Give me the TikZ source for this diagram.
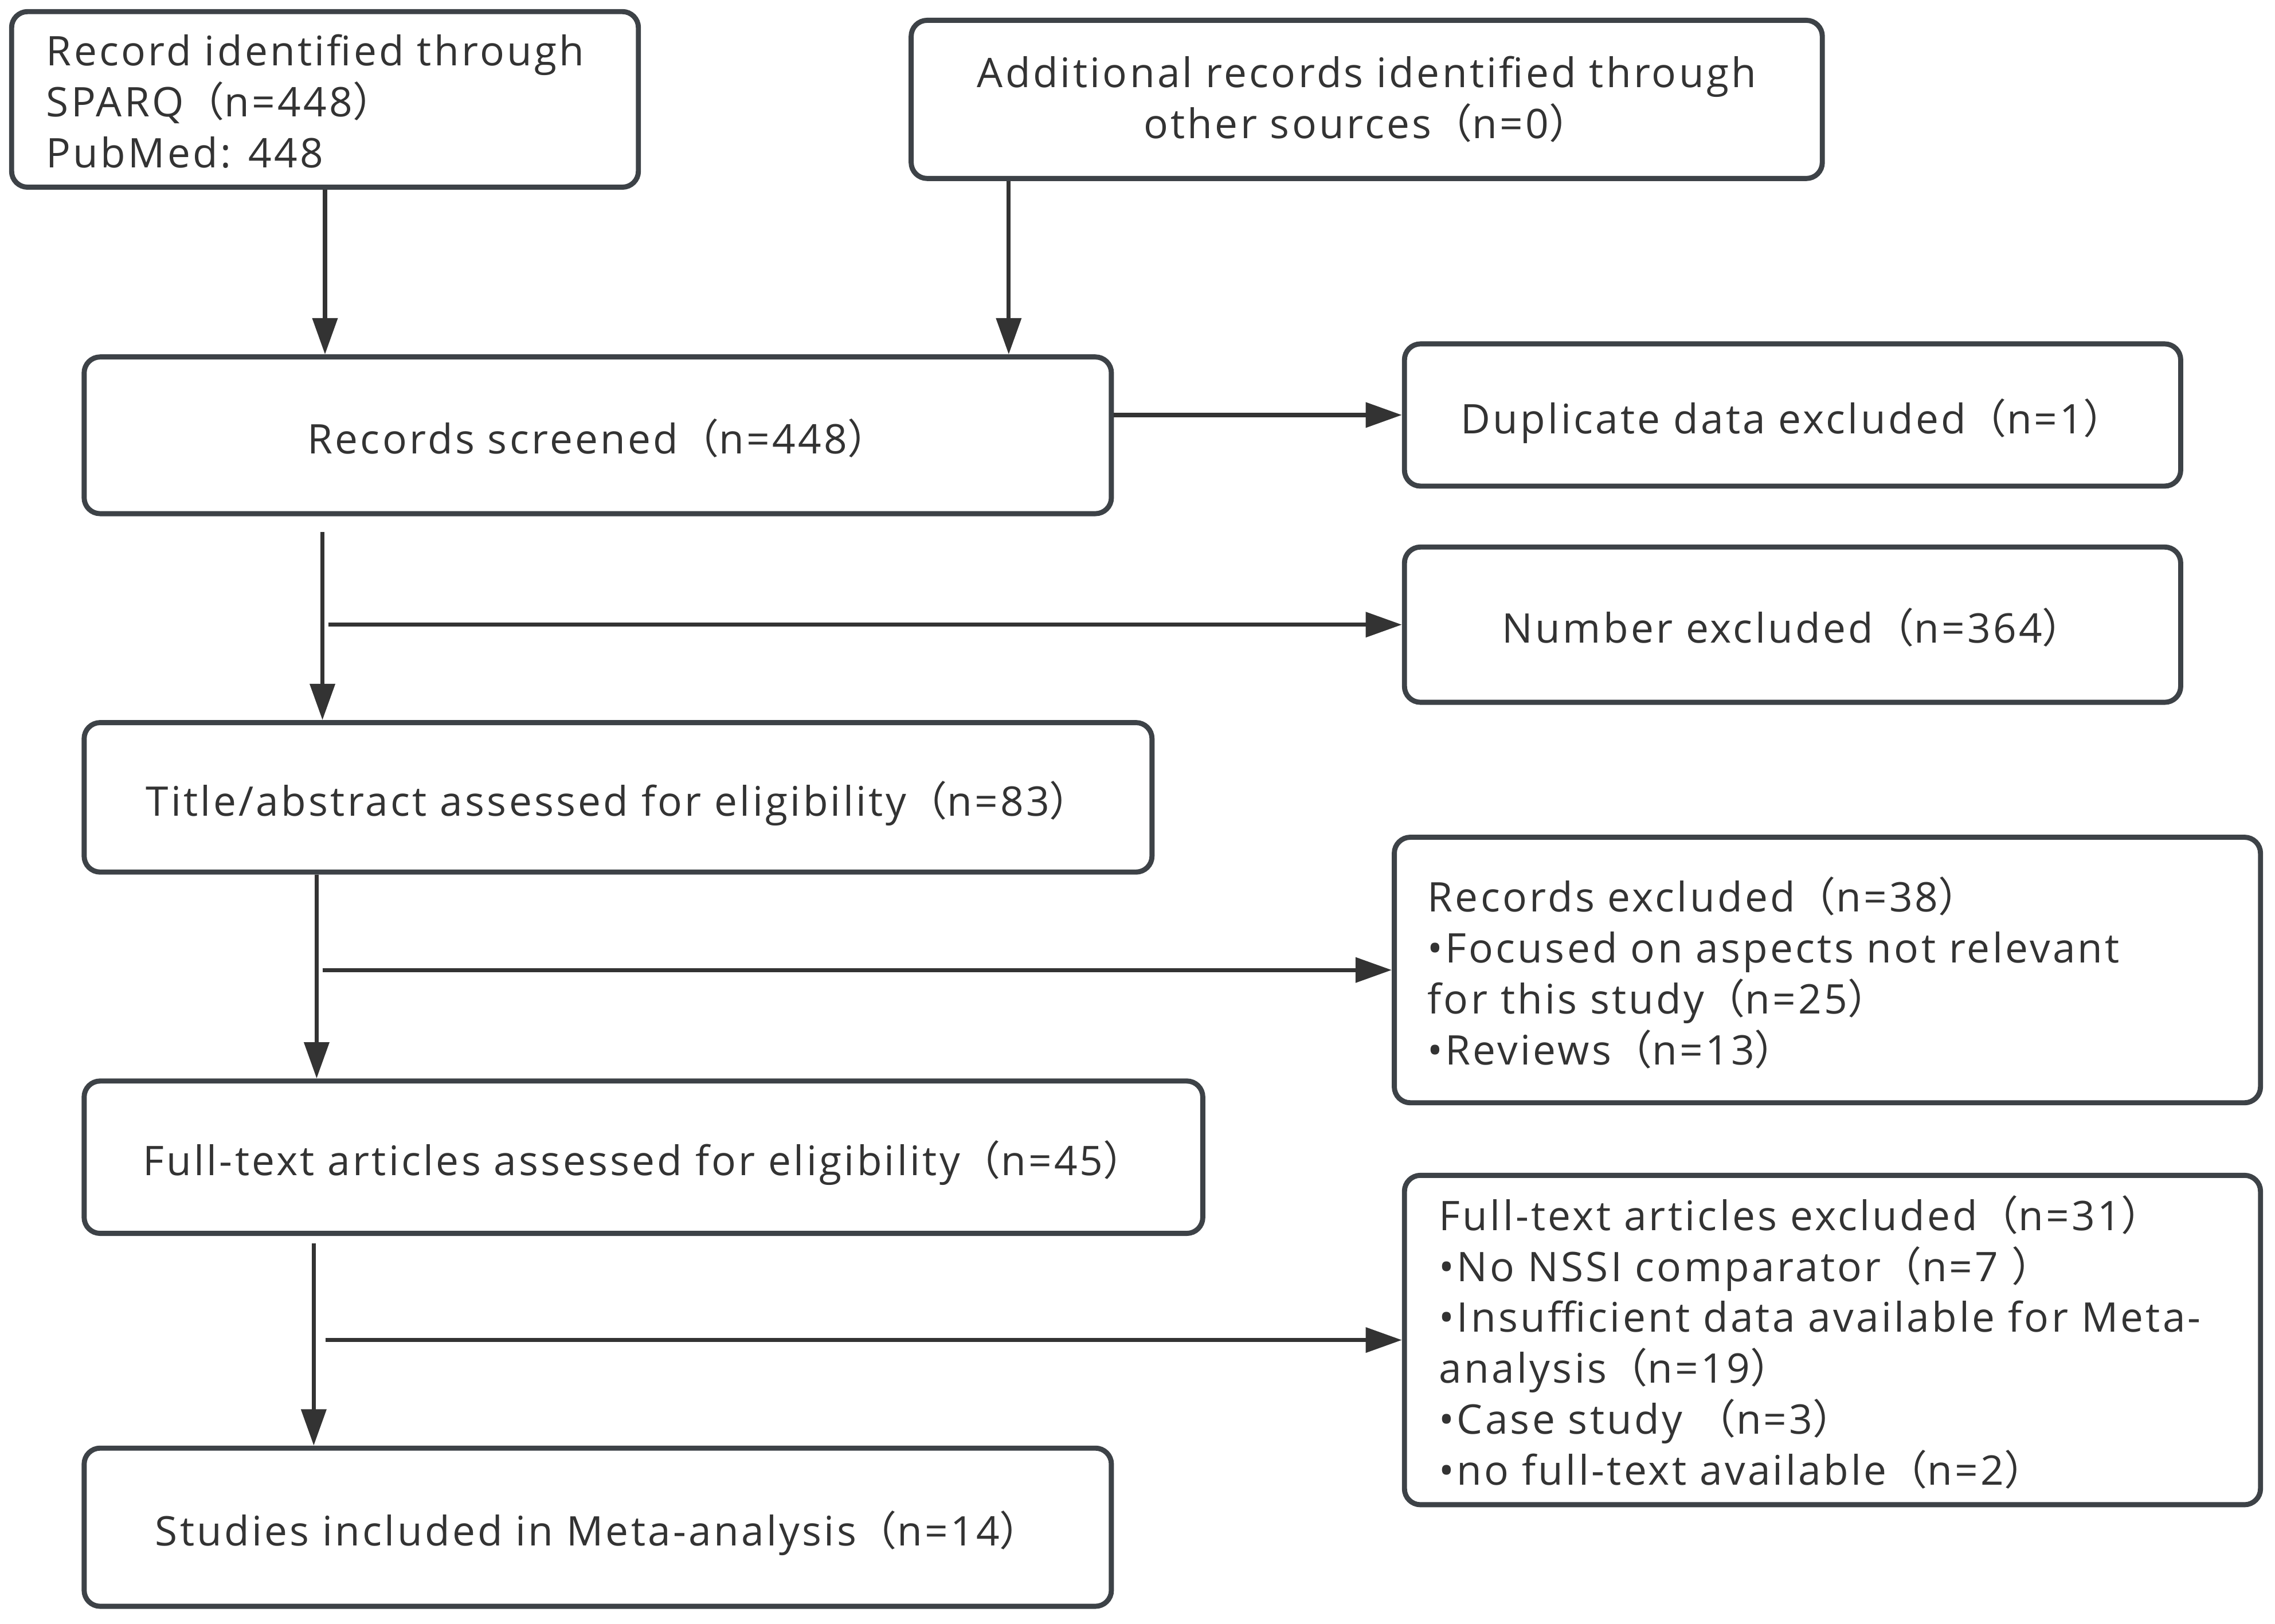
\documentclass[tikz,border=0pt]{standalone}
\usepackage{fontspec}
\setmainfont{Open Sans}[LetterSpace=6]
\newfontfamily\cjkfont{Noto Sans CJK SC}
\usetikzlibrary{arrows.meta}
\newcommand{\lpar}{{\cjkfont （}}
\newcommand{\rpar}{{\cjkfont ）}}
\definecolor{bordc}{HTML}{3D4247}
\definecolor{txtc}{HTML}{333333}
\begin{document}
\begin{tikzpicture}[x=0.1mm,y=-0.1mm,
  box/.style={draw=bordc, line width=1pt, rounded corners=1.1mm, inner sep=0pt, fill=white,
    text=txtc, font=\fontsize{8}{10}\selectfont, align=center},
  one/.style={text height=3.1mm, text depth=0.56mm},
  lbl/.style={text=txtc, font=\fontsize{8}{10}\selectfont, align=left, inner sep=0pt, anchor=west},
  flow/.style={draw=txtc, line width=0.8pt, -{Triangle[length=2.5mm,width=1.7mm]}}]
\useasboundingbox (0,0) rectangle (1568,1119);

% boxes
\node[box, minimum width=43.2mm, minimum height=12.1mm] (A) at (224,68.5) {};
\node[lbl] (Atxt) at ([xshift=2.5mm,yshift=-0.15mm]A.west) {Record identified through\\SPARQ\lpar n=448\rpar\\PubMed: 448};
\node[box, minimum width=62.8mm, minimum height=10.9mm] (B) at (942,68.5) {Additional records identified through\\other sources\lpar n=0\rpar};
\node[box, one, minimum width=70.8mm, minimum height=10.8mm] (S) at (412,300) {Records screened\lpar n=448\rpar};
\node[box, one, minimum width=53.5mm, minimum height=9.8mm] (Dup) at (1235.5,286) {Duplicate data excluded\lpar n=1\rpar};
\node[box, one, minimum width=53.5mm, minimum height=10.7mm] (Num) at (1235.5,430.5) {Number excluded\lpar n=364\rpar};
\node[box, one, minimum width=73.6mm, minimum height=10.3mm] (T) at (426,549.5) {Title/abstract assessed for eligibility\lpar n=83\rpar};
\node[box, minimum width=59.7mm, minimum height=18.3mm] (RecEx) at (1259.5,668.5) {};
\node[lbl] (RecExtxt) at ([xshift=2.4mm,yshift=-0.2mm]RecEx.west) {Records excluded\lpar n=38\rpar\\%
  •Focused on aspects not relevant\\for this study\lpar n=25\rpar\\•Reviews\lpar n=13\rpar};
\node[box, one, minimum width=77.1mm, minimum height=10.5mm] (F) at (443.5,797.5) {Full-text articles assessed for eligibility\lpar n=45\rpar};
\node[box, minimum width=59mm, minimum height=22.7mm] (FEx) at (1263,923.5) {};
\node[lbl] (FExtxt) at ([xshift=2.5mm,yshift=-0.15mm]FEx.west) {Full-text articles excluded\lpar n=31\rpar\\%
  •No NSSI comparator\lpar n=7 \rpar\\•Insufficient data available for Meta-\\analysis\lpar n=19\rpar\\%
  •Case study\ \lpar n=3\rpar\\•no full-text available\lpar n=2\rpar};
\node[box, one, minimum width=70.8mm, minimum height=10.9mm] (St) at (412,1052.5) {Studies included in Meta-analysis\lpar n=14\rpar};

% connectors
\draw[flow] (A.south) -- (A.south |- S.north);
\coordinate (b1) at ([xshift=6.9mm]B.south west);
\draw[flow] (b1) -- (b1 |- S.north);
\draw[flow] (S.east |- Dup.west) -- (Dup.west);

\coordinate (s1) at ([xshift=16.6mm]S.south west);
\draw[flow, shorten <=1.1mm] (s1) -- (s1 |- T.north);
\draw[flow] ([xshift=0.4mm]s1 |- Num.west) -- (Num.west);

\coordinate (t1) at ([xshift=16.2mm]T.south west);
\draw[flow] (t1) -- (t1 |- F.north);
\draw[flow] ([xshift=0.4mm]t1 |- RecEx.west) -- (RecEx.west);

\coordinate (f1) at ([xshift=16mm]F.south west);
\draw[flow, shorten <=0.5mm] (f1) -- (f1 |- St.north);
\draw[flow] ([xshift=0.8mm]f1 |- FEx.west) -- (FEx.west);
\end{tikzpicture}
\end{document}
